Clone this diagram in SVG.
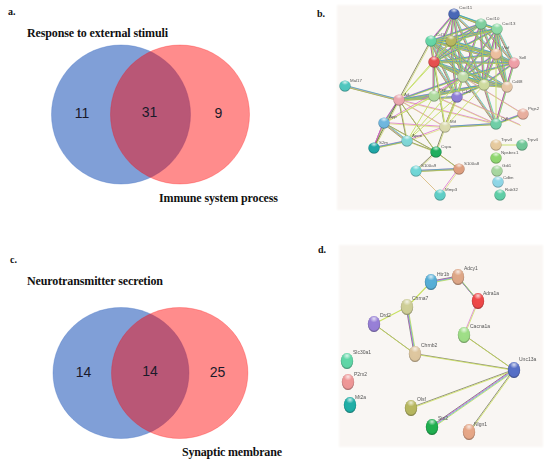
<svg xmlns="http://www.w3.org/2000/svg" xmlns:xlink="http://www.w3.org/1999/xlink" width="550" height="461" viewBox="0 0 550 461">
<style>
.h{font-family:"Liberation Serif","Times New Roman",serif;font-weight:bold;fill:#111}
.num{font-family:"Liberation Sans",Arial,sans-serif;font-size:14px;fill:#1a1a2a;text-anchor:middle}
.lb{font-family:"Liberation Sans",Arial,sans-serif;font-size:4.4px;fill:#555}
.lbd{font-family:"Liberation Sans",Arial,sans-serif;font-size:5px;fill:#555}
.blue{fill:#4472c4;fill-opacity:.68;stroke:#4472c4;stroke-opacity:.35;stroke-width:1}
.red{fill:#ff0000;fill-opacity:.45;stroke:#ff0000;stroke-opacity:.25;stroke-width:1}
.bg{fill:#f9f6f3}
.e{fill:none;stroke-linecap:round}
</style>
<defs>
<filter id="soft" x="-5%" y="-5%" width="110%" height="110%"><feGaussianBlur stdDeviation="0.3"/></filter>
<filter id="bgb" x="-5%" y="-5%" width="110%" height="110%"><feGaussianBlur stdDeviation="1"/></filter>
<radialGradient id="shade" cx="50%" cy="45%" r="55%"><stop offset="0" stop-color="#000" stop-opacity="0"/><stop offset=".78" stop-color="#000" stop-opacity=".02"/><stop offset="1" stop-color="#000" stop-opacity=".42"/></radialGradient>
<radialGradient id="gloss" cx="50%" cy="30%" r="50%"><stop offset="0" stop-color="#fff" stop-opacity=".75"/><stop offset="1" stop-color="#fff" stop-opacity="0"/></radialGradient>
<g id="ball"><circle r="5.6"/><circle r="5.6" fill="url(#shade)"/><ellipse cy="-2.6" rx="3.8" ry="2.6" fill="url(#gloss)"/></g>
<g id="bRich" class="e">
<path d="M454 14L481 24M454 14L497 29M454 14L431 41M454 14L451 41M454 14L434 62M454 14L463 77M454 14L484 85M454 14L496 54M481 24L497 29M481 24L431 41M481 24L451 41M481 24L434 62M481 24L463 77M481 24L484 85M481 24L507 87M481 24L514 63M497 29L431 41M497 29L451 41M497 29L434 62M497 29L463 77M497 29L484 85M497 29L496 54M497 29L514 63M497 29L507 87M431 41L451 41M431 41L434 62M431 41L463 77M431 41L484 85M431 41L457 97M431 41L496 54M431 41L514 63M431 41L507 87M451 41L434 62M451 41L463 77M451 41L484 85M451 41L457 97M451 41L496 54M451 41L514 63M434 62L463 77M434 62L484 85M434 62L457 97M434 62L496 54M434 62L514 63M434 62L507 87M434 62L434 96M463 77L484 85M463 77L507 87M463 77L514 63M463 77L496 54M463 77L457 97M484 85L507 87M484 85L514 63M484 85L496 54M496 54L514 63M496 54L507 87M514 63L507 87M399 100L434 96M399 100L463 77M399 100L484 85M399 100L457 97M399 100L345 86M399 100L384 123M384 123L407 141M384 123L374 148M407 141L374 148M445 127L496 124M457 97L484 85M434 96L484 85M434 96L463 77M496 124L523 114M496 124L507 87M496 124L484 85M496 124L463 77M416 171L459 169"/>
</g>
<g id="bPink" class="e">
<path d="M399 100L445 127M399 100L496 124M384 123L445 127M384 123L463 77M384 123L374 148M407 141L445 127M434 96L496 124M463 77L523 114M457 97L520 125M416 171L440 195M459 169L440 195M457 97L445 127"/>
</g>
<g id="bOlive" class="e">
<path d="M399 100L431 41M399 100L436 152M399 100L407 141M445 127L436 152M445 127L457 97M407 141L436 152M384 123L436 152M436 152L416 171M436 152L459 169M374 148L399 100M445 127L434 62"/>
</g>
<g id="bYellow" class="e">
<path d="M384 123L434 96M407 141L463 77M407 141L434 96M445 127L463 77M445 127L484 85M399 100L434 62M407 141L457 97M445 127L431 41M399 100L451 41M496 145L522 145M496 124L496 54"/>
</g>
<g id="dRich" class="e"><path d="M431 282L458 277M458 277L478 301M407 307L415 354M514 370L432 427"/></g>
<g id="dOlive" class="e"><path d="M464 335L514 370M374 324L415 354M415 354L514 370M514 370L411 408M514 370L469 432"/></g>
<g id="dYellow" class="e"><path d="M431 282L407 307M407 307L374 324"/></g>
<g id="dPink" class="e"><path d="M478 301L464 335"/></g>
</defs>

<rect width="550" height="461" fill="#fff"/>

<g id="panel-a">
<text class="h" x="8" y="15" font-size="10">a.</text>
<text class="h" x="27" y="36.5" font-size="12" textLength="141" lengthAdjust="spacing">Response to external stimuli</text>
<circle class="blue" cx="121" cy="114.5" r="69.5"/>
<circle class="red" cx="180" cy="114.5" r="69.5"/>
<text class="num" x="82" y="118">11</text>
<text class="num" x="149.5" y="117">31</text>
<text class="num" x="218.5" y="118">9</text>
<text class="h" x="159" y="202" font-size="12" textLength="119" lengthAdjust="spacing">Immune system process</text>
</g>

<g id="panel-c">
<text class="h" x="10" y="263" font-size="10">c.</text>
<text class="h" x="27" y="285" font-size="12" textLength="136" lengthAdjust="spacing">Neurotransmitter secretion</text>
<ellipse class="blue" cx="121" cy="373" rx="68" ry="65.5"/>
<ellipse class="red" cx="179.7" cy="373" rx="68.2" ry="65.5"/>
<text class="num" x="83.5" y="376.5">14</text>
<text class="num" x="150" y="376">14</text>
<text class="num" x="217.5" y="376.5">25</text>
<text class="h" x="182" y="456" font-size="12" textLength="100" lengthAdjust="spacing">Synaptic membrane</text>
</g>

<text class="h" x="317" y="17" font-size="10">b.</text>
<text class="h" x="318" y="253" font-size="10">d.</text>

<rect class="bg" x="337" y="5" width="205" height="205" filter="url(#bgb)"/>
<rect class="bg" x="339" y="245" width="204" height="202" filter="url(#bgb)"/>

<g id="connectors" filter="url(#soft)">
<g stroke-width=".7">
<use href="#bRich" stroke="#707048" transform="translate(-.9,.5)"/>
<use href="#bRich" stroke="#c83ccc" transform="translate(-.6,-.5)"/>
<use href="#bRich" stroke="#30b8b0" transform="translate(.6,-.5)"/>
<use href="#bRich" stroke="#b8d050" transform="translate(.2,.6)"/>
<use href="#bPink" stroke="#d860c8" transform="translate(-.5,-.5)"/>
<use href="#bPink" stroke="#d8d870" transform="translate(.5,.5)"/>
<use href="#bOlive" stroke="#5a5a30" transform="translate(-.4,-.4)"/>
<use href="#bOlive" stroke="#c0d060" transform="translate(.4,.4)"/>
<use href="#bYellow" stroke="#c8e070" stroke-width="1"/>
</g>
<g stroke-width=".75">
<use href="#dRich" stroke="#606060" transform="translate(-1,-.7)"/>
<use href="#dRich" stroke="#d048d0" transform="translate(-.35,-.25)"/>
<use href="#dRich" stroke="#40b8d0" transform="translate(.35,.25)"/>
<use href="#dRich" stroke="#b8d850" transform="translate(1,.7)"/>
<use href="#dOlive" stroke="#707058" transform="translate(-.35,-.35)"/>
<use href="#dOlive" stroke="#c8e050" transform="translate(.35,.35)"/>
<use href="#dYellow" stroke="#c8e060" stroke-width="1.1"/>
<use href="#dPink" stroke="#d870d0" transform="translate(-.5,0)"/>
<use href="#dPink" stroke="#c8e060" transform="translate(.5,0)"/>
</g>
</g>

<g id="network-b" filter="url(#soft)">
<g id="n-cxcl11"><use href="#ball" transform="translate(454,14)" fill="#4a68b8"/><text class="lb" x="459" y="9">Cxcl11</text></g>
<g id="n-cxcl10"><use href="#ball" transform="translate(481,24)" fill="#80d0a0"/><text class="lb" x="486" y="20">Cxcl10</text></g>
<g id="n-cxcl13"><use href="#ball" transform="translate(497,29)" fill="#90dca8"/><text class="lb" x="502" y="25">Cxcl13</text></g>
<g id="n-ccl3"><use href="#ball" transform="translate(431,41)" fill="#66d8a8"/><text class="lb" x="436" y="36">Ccl3</text></g>
<g id="n-ccl4"><use href="#ball" transform="translate(451,41)" fill="#b8b860"/></g>
<g id="n-red"><use href="#ball" transform="translate(434,62)" fill="#e85050"/></g>
<g id="n-vwf"><use href="#ball" transform="translate(496,54)" fill="#eec0a0"/><text class="lb" x="502" y="49">Vwf</text></g>
<g id="n-sell"><use href="#ball" transform="translate(514,63)" fill="#f0a0a8"/><text class="lb" x="519" y="59">Sell</text></g>
<g id="n-i"><use href="#ball" transform="translate(463,77)" fill="#c0dca8"/></g>
<g id="n-j"><use href="#ball" transform="translate(484,85)" fill="#d0dca0"/></g>
<g id="n-cd48"><use href="#ball" transform="translate(507,87)" fill="#e8c8a8"/><text class="lb" x="512" y="83">Cd48</text></g>
<g id="n-fcp"><use href="#ball" transform="translate(434,96)" fill="#b0dca0"/><text class="lb" x="439" y="91">Fcp</text></g>
<g id="n-c1r2"><use href="#ball" transform="translate(457,97)" fill="#9080d8"/><text class="lb" x="462" y="93">C1r2</text></g>
<g id="n-aif"><use href="#ball" transform="translate(399,100)" fill="#eca8b0"/><text class="lb" x="404" y="96">Aif</text></g>
<g id="n-mal17"><use href="#ball" transform="translate(345,86)" fill="#50c8c0"/><text class="lb" x="350" y="82">Mal17</text></g>
<g id="n-ptgs2"><use href="#ball" transform="translate(523,114)" fill="#eab0a0"/><text class="lb" x="528" y="110">Ptgs2</text></g>
<g id="n-cyll"><use href="#ball" transform="translate(496,124)" fill="#70d0a8"/><text class="lb" x="501" y="120">Cyll</text></g>
<g id="n-mif"><use href="#ball" transform="translate(445,127)" fill="#dcdcb0"/><text class="lb" x="450" y="123">Mif</text></g>
<g id="n-app"><use href="#ball" transform="translate(384,123)" fill="#70b8e0"/><text class="lb" x="389" y="118">App</text></g>
<g id="n-s2m"><use href="#ball" transform="translate(374,148)" fill="#20a8a8"/><text class="lb" x="379" y="144">S2m</text></g>
<g id="n-apoe"><use href="#ball" transform="translate(407,141)" fill="#80d8d8"/><text class="lb" x="412" y="137">Apoe</text></g>
<g id="n-cspa"><use href="#ball" transform="translate(436,152)" fill="#20b060"/><text class="lb" x="441" y="148">Cspa</text></g>
<g id="n-s100a9"><use href="#ball" transform="translate(416,171)" fill="#70d8d8"/><text class="lb" x="421" y="167">S100a9</text></g>
<g id="n-s100a8"><use href="#ball" transform="translate(459,169)" fill="#e0a080"/><text class="lb" x="464" y="165">S100a8</text></g>
<g id="n-mmp3"><use href="#ball" transform="translate(440,195)" fill="#60d0c8"/><text class="lb" x="445" y="191">Mmp3</text></g>
<g id="n-trpv4a"><use href="#ball" transform="translate(496,145)" fill="#e8cca0"/><text class="lb" x="501" y="141">Trpv4</text></g>
<g id="n-trpv4b"><use href="#ball" transform="translate(522,145)" fill="#70c898"/><text class="lb" x="527" y="141">Trpv4</text></g>
<g id="n-npsbec1"><use href="#ball" transform="translate(496,158)" fill="#90d870"/><text class="lb" x="501" y="154">Npsbec1</text></g>
<g id="n-gdi1"><use href="#ball" transform="translate(497,171)" fill="#a8d8a0"/><text class="lb" x="502" y="167">Gdi1</text></g>
<g id="n-cdbn"><use href="#ball" transform="translate(498,182)" fill="#90d8e8"/><text class="lb" x="503" y="179">Cdbn</text></g>
<g id="n-rab32"><use href="#ball" transform="translate(500,195)" fill="#60d0a8"/><text class="lb" x="505" y="191">Rab32</text></g>
</g>

<g id="network-d" filter="url(#soft)">
<g id="n-htr1b"><use href="#ball" transform="translate(431,282) scale(1.1,1.45)" fill="#58b0d8"/><text class="lbd" x="437" y="276">Htr1b</text></g>
<g id="n-adcy1"><use href="#ball" transform="translate(458,277) scale(1.1,1.45)" fill="#e0a888"/><text class="lbd" x="464" y="270">Adcy1</text></g>
<g id="n-adra1a"><use href="#ball" transform="translate(478,301) scale(1.1,1.45)" fill="#f04848"/><text class="lbd" x="483" y="295">Adra1a</text></g>
<g id="n-cacna1a"><use href="#ball" transform="translate(464,335) scale(1.1,1.45)" fill="#a0e088"/><text class="lbd" x="470" y="328">Cacna1a</text></g>
<g id="n-chrna7"><use href="#ball" transform="translate(407,307) scale(1.1,1.45)" fill="#d0d098"/><text class="lbd" x="412" y="300">Chrna7</text></g>
<g id="n-drd2"><use href="#ball" transform="translate(374,324) scale(1.1,1.45)" fill="#9880d8"/><text class="lbd" x="380" y="317">Drd2</text></g>
<g id="n-chrnb2"><use href="#ball" transform="translate(415,354) scale(1.1,1.45)" fill="#e0c8a0"/><text class="lbd" x="421" y="347">Chrnb2</text></g>
<g id="n-unc13a"><use href="#ball" transform="translate(514,370) scale(1.1,1.45)" fill="#5870c8"/><text class="lbd" x="519" y="361">Unc13a</text></g>
<g id="n-slc30a1"><use href="#ball" transform="translate(347,361) scale(1.1,1.45)" fill="#60d8a8"/><text class="lbd" x="353" y="354">Slc30a1</text></g>
<g id="n-p2rx2"><use href="#ball" transform="translate(348,382) scale(1.1,1.45)" fill="#f09898"/><text class="lbd" x="354" y="376">P2rx2</text></g>
<g id="n-mt2a"><use href="#ball" transform="translate(350,405) scale(1.1,1.45)" fill="#20b0a8"/><text class="lbd" x="355" y="399">Mt2a</text></g>
<g id="n-olsf"><use href="#ball" transform="translate(411,408) scale(1.1,1.45)" fill="#b8b860"/><text class="lbd" x="417" y="401">Olsf</text></g>
<g id="n-stx2"><use href="#ball" transform="translate(432,427) scale(1.1,1.45)" fill="#20b050"/><text class="lbd" x="438" y="420">Stx2</text></g>
<g id="n-nlgn1"><use href="#ball" transform="translate(469,432) scale(1.1,1.45)" fill="#e8a888"/><text class="lbd" x="474" y="426">Nlgn1</text></g>
</g>
</svg>
